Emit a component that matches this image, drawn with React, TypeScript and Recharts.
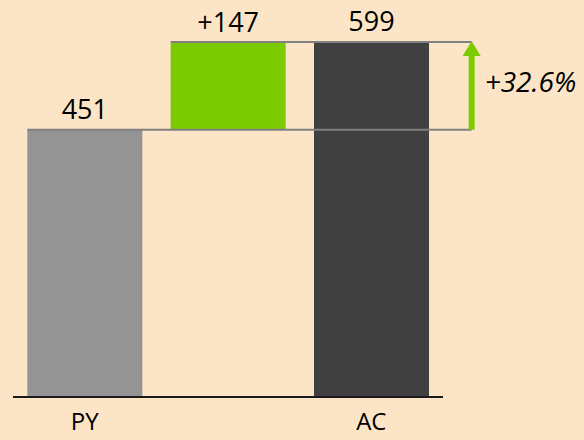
import { BarChart, Bar, XAxis, YAxis, Cell, LabelList, ReferenceLine } from 'recharts';

// waterfall: previous year -> delta -> actual
const categories = ['PY', 'ΔPY', 'AC'];
const tickLabels = ['PY', '', 'AC'];
const values = [451, 147, 599];
const bases = [0, 451, 0];
const valueLabels = ['451', '+147', '599'];
const deltaPercent = 32.6;

const barColors = ['#949494', '#7BCB00', '#404040'];

const data = categories.map((name, i) => ({
  name,
  base: bases[i],
  value: values[i],
  label: valueLabels[i],
}));

// draws the two connector lines, the green arrow and the % label.
// x1/x2 are PY and AC centres, y1/y2 the PY and AC levels (from the scales)
const DeltaMarker = (props: any) => {
  const { x1, y1, x2, y2 } = props;
  const step = (x2 - x1) / 2;
  const halfBar = step * 0.4;
  const arrowX = x2 + halfBar + step * 0.3;
  const headH = 14;
  const headW = 18;
  return (
    <g>
      <line x1={x1 - halfBar} y1={y1} x2={arrowX} y2={y1} stroke='#808080' strokeWidth={2} />
      <line x1={x1 + step - halfBar} y1={y2} x2={arrowX} y2={y2} stroke='#808080' strokeWidth={2} />
      <rect x={arrowX - 3} y={y2 + headH - 1} width={6} height={y1 - y2 - headH + 1} fill='#7BCB00' />
      <polygon
        points={`${arrowX - headW / 2},${y2 + headH} ${arrowX + headW / 2},${y2 + headH} ${arrowX},${y2 - 1}`}
        fill='#7BCB00'
      />
      <text x={arrowX + 13} y={(y1 + y2) / 2 + 6} fontSize={28} fontStyle='italic' fill='#000'>
        {`+${deltaPercent}%`}
      </text>
    </g>
  );
};

const App = () => {
  return (
    <div style={{ position: 'absolute', left: 0, top: 0, width: 584, height: 440, background: '#FCE5C6' }}>
      <BarChart
        width={584}
        height={440}
        data={data}
        barCategoryGap='10%'
        margin={{ top: 42, right: 141, bottom: 0, left: 13 }}
        style={{ fontFamily: 'Open Sans' }}
      >
        <XAxis
          dataKey='name'
          height={43}
          axisLine={{ stroke: '#1a1a1a', strokeWidth: 2 }}
          tickLine={false}
          tickMargin={10}
          tick={{ fontSize: 24, fill: '#000' }}
          tickFormatter={(_v: string, i: number) => tickLabels[i]}
          interval={0}
        />
        <YAxis hide domain={[0, 599]} />
        <Bar dataKey='base' stackId='w' fill='transparent' isAnimationActive={false} />
        <Bar dataKey='value' stackId='w' isAnimationActive={false}>
          {data.map((d, i) => (
            <Cell key={d.name} fill={barColors[i]} />
          ))}
          <LabelList dataKey='label' position='top' offset={11} fontSize={27} fill='#000' />
        </Bar>
        <ReferenceLine
          ifOverflow='visible'
          segment={[
            { x: 'PY', y: values[0] },
            { x: 'AC', y: values[2] },
          ]}
          shape={DeltaMarker}
        />
      </BarChart>
    </div>
  );
};

export default App;
